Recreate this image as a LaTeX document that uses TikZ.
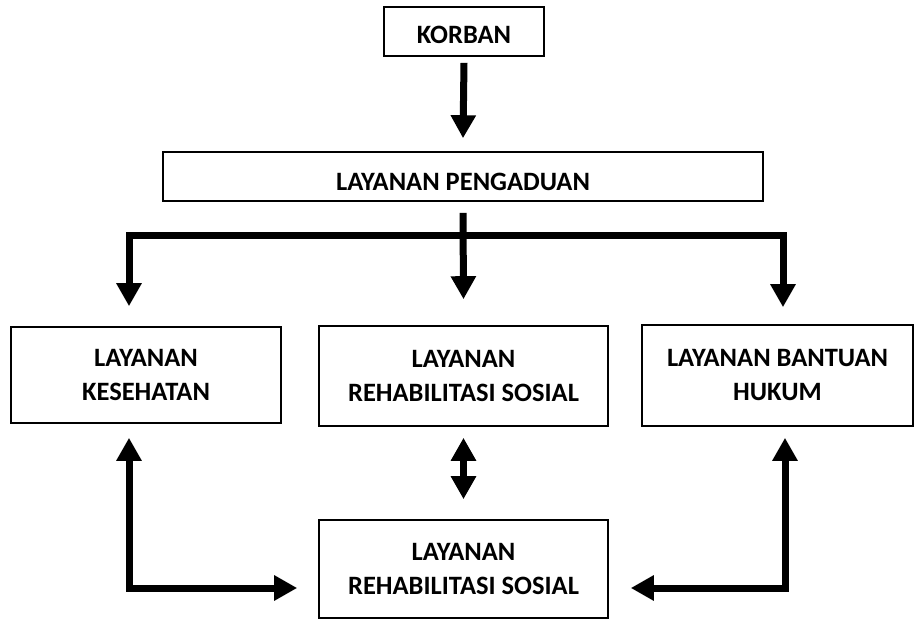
\documentclass[tikz,border=0pt]{standalone}
\usepackage{fontspec}
\setmainfont{Carlito}
\usetikzlibrary{arrows.meta,calc}
\begin{document}
\begin{tikzpicture}[x=1pt,y=-1pt,
  box/.style={draw,line width=1.6pt,inner sep=0pt,align=center,
    font=\fontsize{26.5}{34}\selectfont\bfseries},
  arr/.style={line width=7pt,-{Triangle[width=24pt,length=23pt]}},
  dbl/.style={line width=7pt,{Triangle[width=24pt,length=23pt]}-{Triangle[width=24pt,length=23pt]}}]
\useasboundingbox (0,0) rectangle (916,621);
\node[box,minimum width=160pt,minimum height=49pt] (korban) at (464,31.5) {\raisebox{-3pt}[\height][\depth]{KORBAN}};
\node[box,minimum width=600pt,minimum height=49pt] (pengaduan) at (463,176.5) {\raisebox{-5pt}[\height][\depth]{LAYANAN PENGADUAN}};
\node[box,minimum width=270pt,minimum height=96pt] (kes) at (146,375) {LAYANAN\\KESEHATAN};
\node[box,minimum width=289pt,minimum height=100pt] (rehab) at (463.5,376) {LAYANAN\\REHABILITASI SOSIAL};
\node[box,minimum width=271pt,minimum height=101pt] (hukum) at (777.5,375.5) {LAYANAN BANTUAN\\HUKUM};
\node[box,minimum width=289pt,minimum height=98pt] (rehab2) at (463.5,569) {LAYANAN\\REHABILITASI SOSIAL};
% top arrow
\draw[arr] ($(korban.south)+(0,6)$) -- ($(pengaduan.north)+(0,-13)$);
% centre arrow
\draw[arr] ($(pengaduan.south)+(0,11)$) -- ($(rehab.north)+(0,-26)$);
% branch
\coordinate (bl) at (129,235.5);
\coordinate (br) at (783,235.5);
\draw[arr] (br) -- (bl) -- ($(bl |- kes.north)+(0,-20)$);
\draw[arr] (bl) -- (br) -- ($(br |- hukum.north)+(0,-17)$);
% middle double arrow
\draw[dbl] ($(rehab.south)+(0,11)$) -- ($(rehab2.north)+(0,-20)$);
% left L
\coordinate (cl) at (129,588);
\draw[dbl] ($(cl |- kes.south)+(0,14)$) -- (cl) -- ($(cl -| rehab2.west)+(-21,0)$);
% right L
\coordinate (cr) at (785,588);
\draw[dbl] ($(cr |- hukum.south)+(0,11)$) -- (cr) -- ($(cr -| rehab2.east)+(22,0)$);
\end{tikzpicture}
\end{document}
